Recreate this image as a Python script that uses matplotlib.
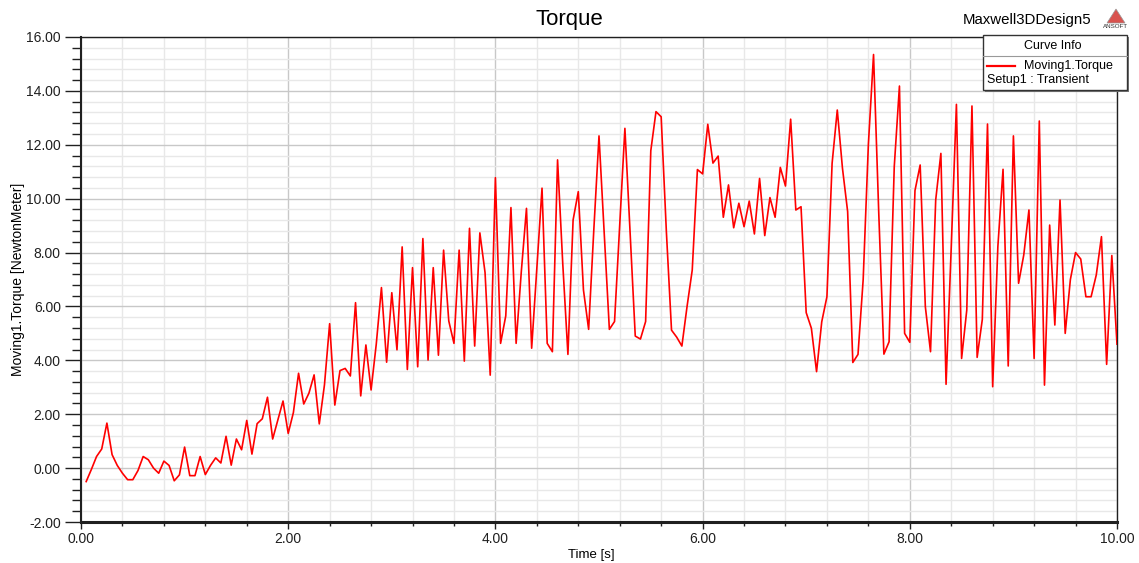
import numpy as np
import matplotlib
matplotlib.use('Agg')
import matplotlib.pyplot as plt
from matplotlib.patches import Rectangle, Polygon
from matplotlib.lines import Line2D
from matplotlib.ticker import MultipleLocator, FormatStrFormatter

plt.rcParams['font.family'] = ['Liberation Sans', 'DejaVu Sans']

# Sample spacing of the transient solve (s)
time_step = 0.05

# Moving1.Torque [NewtonMeter], one value per time step
torque = [
    -0.50, -0.05, 0.43, 0.71, 1.67, 0.50, 0.10, -0.19, -0.43, -0.43,
    -0.09, 0.43, 0.31, 0.00, -0.19, 0.26, 0.10, -0.47, -0.25, 0.78,
    -0.28, -0.28, 0.43, -0.24, 0.10, 0.38, 0.19, 1.18, 0.11, 1.08,
    0.68, 1.77, 0.52, 1.65, 1.83, 2.63, 1.08, 1.79, 2.49, 1.29,
    2.06, 3.52, 2.38, 2.78, 3.46, 1.64, 3.09, 5.36, 2.34, 3.62,
    3.70, 3.42, 6.14, 2.68, 4.57, 2.90, 4.60, 6.70, 3.93, 6.51,
    4.39, 8.21, 3.66, 7.44, 3.76, 8.52, 4.01, 7.44, 4.19, 8.09,
    5.46, 4.63, 8.09, 3.97, 8.90, 4.53, 8.73, 7.26, 3.45, 10.78,
    4.63, 5.65, 9.67, 4.63, 7.29, 9.64, 4.45, 7.42, 10.39, 4.63,
    4.32, 11.44, 7.60, 4.22, 9.21, 10.26, 6.61, 5.15, 8.85, 12.33,
    8.74, 5.15, 5.44, 9.00, 12.61, 8.76, 4.90, 4.79, 5.44, 11.78,
    13.23, 13.04, 8.80, 5.12, 4.86, 4.53, 6.00, 7.35, 11.08, 10.92,
    12.76, 11.32, 11.58, 9.31, 10.51, 8.92, 9.83, 8.96, 9.91, 8.69,
    10.75, 8.63, 10.04, 9.31, 11.16, 10.47, 12.95, 9.58, 9.70, 5.77,
    5.19, 3.58, 5.43, 6.36, 11.31, 13.29, 11.13, 9.52, 3.92, 4.22,
    7.00, 12.00, 15.35, 9.50, 4.23, 4.69, 11.19, 14.18, 5.00, 4.67,
    10.30, 11.25, 5.99, 4.32, 9.95, 11.68, 3.11, 8.20, 13.50, 4.07,
    5.87, 13.44, 4.11, 5.52, 12.77, 3.02, 8.22, 11.09, 3.79, 12.33,
    6.86, 7.91, 9.58, 4.07, 12.88, 3.08, 9.02, 5.31, 9.95, 5.00,
    7.00, 8.00, 7.76, 6.36, 6.36, 7.17, 8.59, 3.85, 7.89, 4.60,
]
time = time_step * np.arange(1, len(torque) + 1)

W, H = 1139, 563
fig = plt.figure(figsize=(W / 100, H / 100), dpi=100)
fig.patch.set_facecolor('white')


def fx(px):
    return px / W


def fy(py):
    return 1 - py / H


ax = fig.add_axes([fx(81), fy(522), fx(1117) - fx(81), fy(37) - fy(522)])
ax.plot(time, torque, color='#ff0000', lw=1.2, zorder=3)

ax.set_xlim(0, 10)
ax.set_ylim(-2, 16)
ax.xaxis.set_major_locator(MultipleLocator(2))
ax.xaxis.set_minor_locator(MultipleLocator(0.4))
ax.yaxis.set_major_locator(MultipleLocator(2))
ax.yaxis.set_minor_locator(MultipleLocator(0.4))
ax.xaxis.set_major_formatter(FormatStrFormatter('%.2f'))
ax.yaxis.set_major_formatter(FormatStrFormatter('%.2f'))

ax.grid(which='major', color='#c8c8c8', lw=1.0, zorder=0)
ax.grid(which='minor', color='#e8e8e8', lw=1.0, zorder=0)
ax.set_axisbelow(True)

for s in ax.spines.values():
    s.set_color('#202020')
    s.set_linewidth(1.0)
ax.spines['left'].set_linewidth(1.5)
ax.spines['bottom'].set_linewidth(2.2)

ax.tick_params(axis='y', which='major', direction='out', length=11.5, width=1.0,
               pad=3, labelsize=10, colors='#202020')
ax.tick_params(axis='y', which='minor', direction='out', length=6.5, width=1.0,
               colors='#202020')
ax.tick_params(axis='x', which='major', direction='out', length=5, width=1.0,
               pad=2, labelsize=10, colors='#202020')
ax.tick_params(axis='x', which='minor', direction='out', length=3, width=1.0,
               colors='#202020')

ax.set_xlabel('Time [s]', fontsize=9.5, labelpad=0)
ax.xaxis.set_label_coords(0.493, -0.055)
ax.set_ylabel('Moving1.Torque [NewtonMeter]', fontsize=10)
ax.yaxis.set_label_coords(-0.054, 0.5)

fig.text(fx(569), fy(20), 'Torque', fontsize=16, ha='center', va='center')
fig.text(fx(1091), fy(20), 'Maxwell3DDesign5', fontsize=10.8, ha='right', va='center')

# ANSOFT mark
fig.patches.append(Polygon([[fx(1107), fy(23)], [fx(1116), fy(9)], [fx(1125), fy(23)]],
                           closed=True, transform=fig.transFigure,
                           facecolor='#d9534f', edgecolor='#999999', lw=0.5))
fig.text(fx(1116), fy(27), 'ANSOFT', fontsize=4.5, ha='center', va='center',
         color='#333333')

# Curve Info box
bx0, by0, bx1, by1 = 983, 35, 1127, 90
fig.patches.append(Rectangle((fx(bx0 + 2), fy(by1 + 2)), fx(bx1) - fx(bx0), fy(by0) - fy(by1),
                             transform=fig.transFigure, facecolor='#777777',
                             edgecolor='none', zorder=5))
fig.patches.append(Rectangle((fx(bx0), fy(by1)), fx(bx1) - fx(bx0), fy(by0) - fy(by1),
                             transform=fig.transFigure, facecolor='white',
                             edgecolor='#333333', lw=1.0, zorder=6))
fig.lines.append(Line2D([fx(bx0), fx(bx1)], [fy(56), fy(56)], transform=fig.transFigure,
                        color='#999999', lw=0.8, zorder=7))
fig.text(fx(1053), fy(46), 'Curve Info', fontsize=9, ha='center', va='center', zorder=8)
fig.lines.append(Line2D([fx(987), fx(1015)], [fy(66), fy(66)], transform=fig.transFigure,
                        color='#ff0000', lw=1.6, zorder=8))
fig.text(fx(1024), fy(66), 'Moving1.Torque', fontsize=9, ha='left', va='center', zorder=8)
fig.text(fx(987), fy(80), 'Setup1 : Transient', fontsize=9, ha='left', va='center', zorder=8)

fig.savefig('out.png', dpi=100)
